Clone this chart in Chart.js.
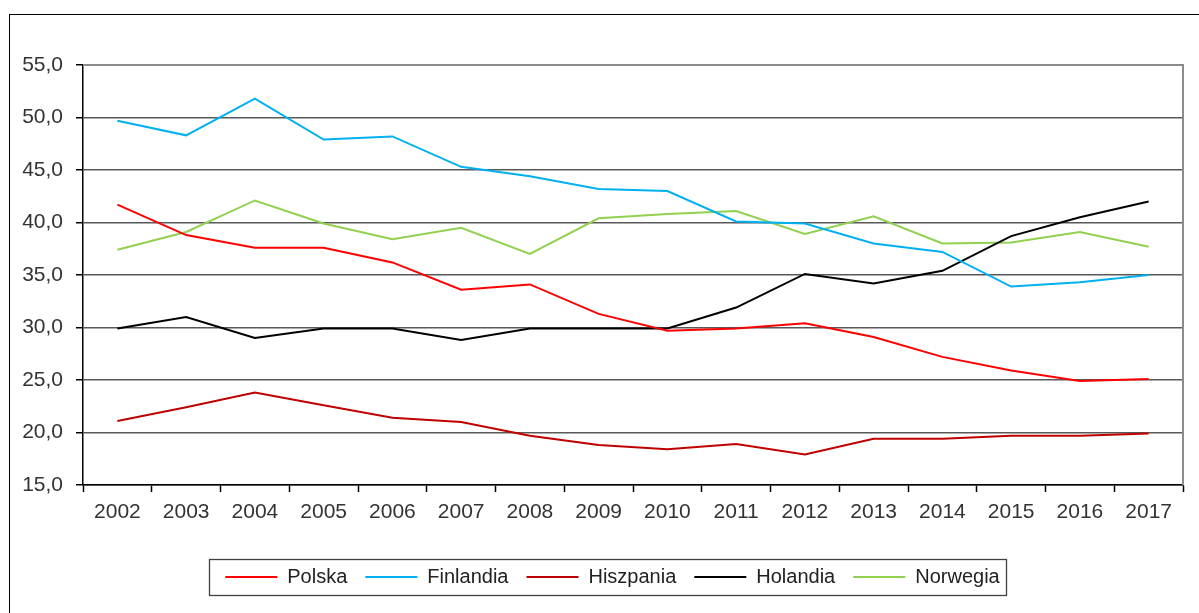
<!DOCTYPE html>
<html lang="pl">
<head>
<meta charset="UTF-8">
<title>Wykres</title>
<script src="https://cdn.jsdelivr.net/npm/chart.js"></script>
<style>
  body { margin: 0; background: #fff; }
  #wrap { position: relative; width: 1199px; height: 613px; overflow: hidden; }
  #frame { position: absolute; left: 9px; top: 14px; width: 1300px; height: 700px; border: 1.5px solid #000; }
  #chart { position: absolute; left: 0; top: 0; }
</style>
</head>
<body>
<div id="wrap">
  <div id="frame"></div>
  <canvas id="chart" width="1199" height="613"></canvas>
</div>
<script>
const years = ['2002', '2003', '2004', '2005', '2006', '2007', '2008', '2009',
               '2010', '2011', '2012', '2013', '2014', '2015', '2016', '2017'];

const polska    = [41.7, 38.8, 37.6, 37.6, 36.2, 33.6, 34.1, 31.3, 29.7, 29.9, 30.4, 29.1, 27.2, 25.9, 24.9, 25.1];
const finlandia = [49.7, 48.3, 51.8, 47.9, 48.2, 45.3, 44.4, 43.2, 43.0, 40.1, 39.9, 38.0, 37.2, 33.9, 34.3, 35.0];
const hiszpania = [21.1, 22.4, 23.8, 22.6, 21.4, 21.0, 19.7, 18.8, 18.4, 18.9, 17.9, 19.4, 19.4, 19.7, 19.7, 19.9];
const holandia  = [29.9, 31.0, 29.0, 29.9, 29.9, 28.8, 29.9, 29.9, 29.9, 31.9, 35.1, 34.2, 35.4, 38.7, 40.5, 42.0];
const norwegia  = [37.4, 39.1, 42.1, 39.9, 38.4, 39.5, 37.0, 40.4, 40.8, 41.1, 38.9, 40.6, 38.0, 38.1, 39.1, 37.7];

const yMin = 15, yMax = 55, yStep = 5;

const FONT = "'Liberation Sans', Arial, sans-serif";

function series(label, data, color) {
  return {
    label: label,
    data: data,
    borderColor: color,
    backgroundColor: color,
    borderWidth: 2,
    pointRadius: 0,
    tension: 0,
    fill: false
  };
}

// grey border on top and right of the plot area
const plotBorder = {
  id: 'plotBorder',
  beforeDatasetsDraw(chart) {
    const { ctx, chartArea: a } = chart;
    ctx.save();
    ctx.strokeStyle = '#8c8c8c';
    ctx.lineWidth = 2;
    ctx.beginPath();
    ctx.moveTo(a.left, a.top);
    ctx.lineTo(a.right, a.top);
    ctx.lineTo(a.right, a.bottom);
    ctx.stroke();
    ctx.restore();
  }
};

// nudge the legend a bit to the right, then frame it
const legendBox = {
  id: 'legendBox',
  afterLayout(chart) {
    chart.legend.left += 21;
    chart.legend.right += 21;
  },
  afterDraw(chart) {
    const hb = chart.legend.legendHitBoxes;
    if (!hb || !hb.length) return;
    const first = hb[0], last = hb[hb.length - 1];
    const x1 = Math.round(first.left - 16) + 0.5;
    const x2 = Math.round(last.left + last.width + 6) + 0.5;
    const y1 = Math.round(first.top - 8) + 0.5;
    const y2 = Math.round(first.top + first.height + 8) + 0.5;
    const ctx = chart.ctx;
    ctx.save();
    ctx.strokeStyle = '#404040';
    ctx.lineWidth = 1.3;
    ctx.strokeRect(x1, y1, x2 - x1, y2 - y1);
    ctx.restore();
  }
};

new Chart(document.getElementById('chart'), {
  type: 'line',
  data: {
    labels: years,
    datasets: [
      series('Polska', polska, '#ff0000'),
      series('Finlandia', finlandia, '#00b0f0'),
      series('Hiszpania', hiszpania, '#c00000'),
      series('Holandia', holandia, '#000000'),
      series('Norwegia', norwegia, '#92d050')
    ]
  },
  options: {
    responsive: false,
    animation: false,
    devicePixelRatio: 1,
    layout: { padding: { top: 65, left: 0, right: 16, bottom: 16 } },
    plugins: {
      title: { display: false },
      tooltip: { enabled: false },
      legend: {
        position: 'bottom',
        labels: {
          usePointStyle: true,
          pointStyle: 'line',
          pointStyleWidth: 52,
          padding: 18,
          color: '#222',
          font: { family: FONT, size: 20 }
        }
      }
    },
    scales: {
      x: {
        offset: true,
        grid: {
          offset: true,
          drawOnChartArea: false,
          drawTicks: true,
          tickLength: 7,
          tickColor: '#000',
          tickWidth: 1.5
        },
        border: { color: '#000', width: 1.5 },
        ticks: {
          color: '#333',
          padding: 8,
          maxRotation: 0,
          autoSkip: false,
          font: { family: FONT, size: 21 }
        },
        afterFit(s) { s.height = 64; }
      },
      y: {
        min: yMin,
        max: yMax,
        grid: {
          color: '#595959',
          lineWidth: 1.5,
          tickLength: 7,
          tickColor: '#000',
          tickWidth: 1.5
        },
        border: { color: '#000', width: 1.5 },
        ticks: {
          stepSize: yStep,
          color: '#333',
          padding: 13,
          font: { family: FONT, size: 21 },
          callback: v => v.toFixed(1).replace('.', ',')
        },
        afterFit(s) { s.width = 83; }
      }
    }
  },
  plugins: [plotBorder, legendBox]
});
</script>
</body>
</html>
